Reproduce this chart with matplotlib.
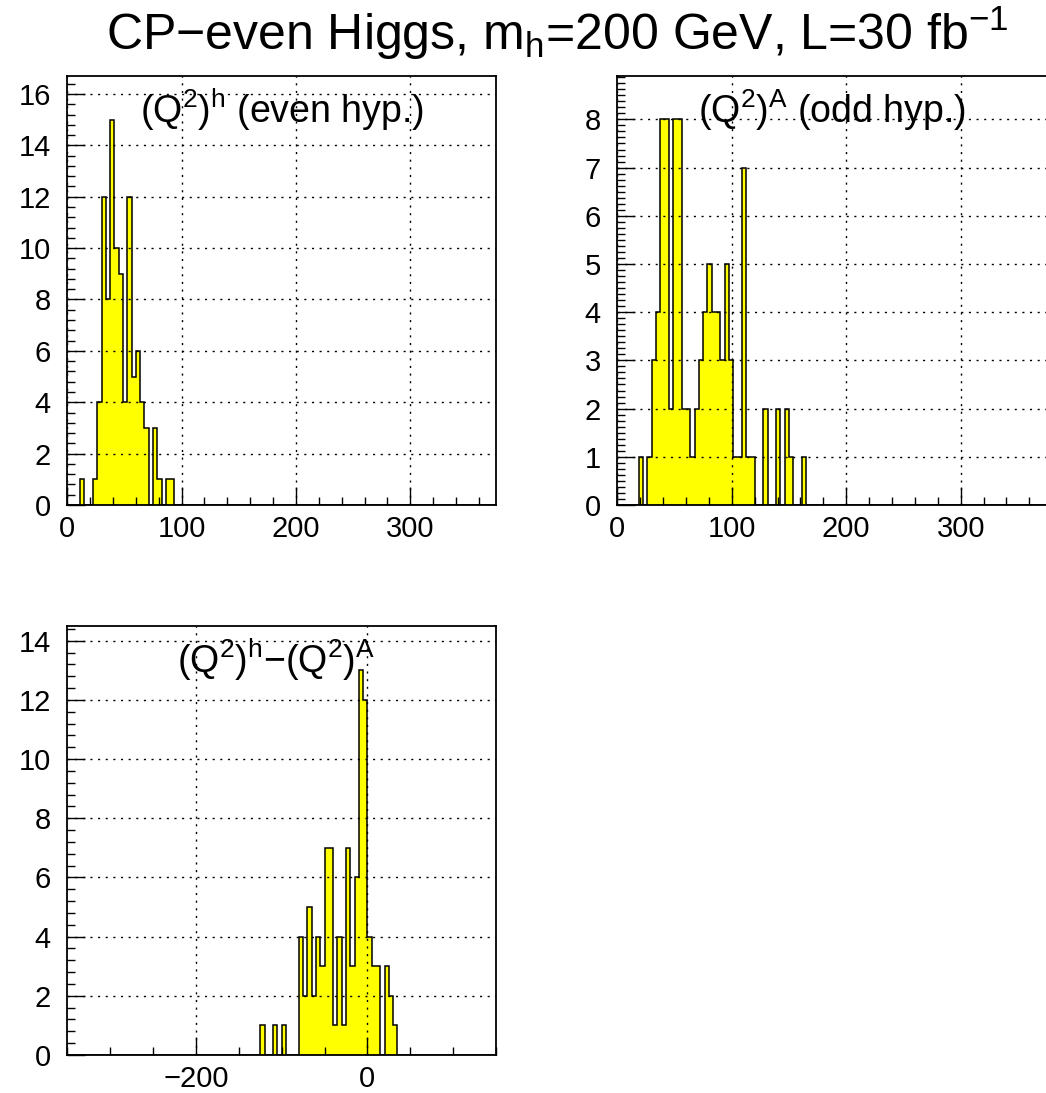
import matplotlib
matplotlib.use('Agg', force=True)
import matplotlib.pyplot as plt
import numpy as np
from matplotlib.ticker import MultipleLocator

plt.rcParams['font.family'] = ['Liberation Sans', 'DejaVu Sans']
plt.rcParams['mathtext.fontset'] = 'custom'
plt.rcParams['mathtext.rm'] = 'Liberation Sans'
plt.rcParams['mathtext.it'] = 'Liberation Sans:italic'

# 100-bin histograms, counts read bin by bin (first filled bin index + contents)
n_bins = 100
q2_range = (0, 375)
diff_range = (-350, 150)

even_first_bin = 3
even_counts = [1, 0, 0, 1, 4, 12, 8, 15, 10, 9, 4, 12, 5, 6, 4, 3, 0, 3, 1, 0, 1, 1]

odd_first_bin = 5
odd_counts = [1, 0, 1, 3, 4, 8, 8, 2, 8, 8, 2, 2, 1, 2, 3, 4, 5, 4, 4, 3,
              5, 3, 1, 1, 7, 1, 1, 0, 0, 2, 0, 0, 2, 0, 2, 1, 0, 0, 1]

diff_first_bin = 45
diff_counts = [1, 0, 0, 1, 0, 1, 0, 0, 0, 4, 2, 5, 2, 4, 3, 7, 7, 1, 4, 1,
               7, 3, 6, 13, 12, 4, 3, 3, 0, 3, 2, 1]

panel_labels = [r'$\mathregular{(Q^2)^h}$ (even hyp.)',
                r'$\mathregular{(Q^2)^A}$ (odd hyp.)',
                r'$\mathregular{(Q^2)^h}$$\mathregular{-(Q^2)^A}$']
title = r'CP$\mathregular{-}$even Higgs, m$\mathregular{_h}$=200 GeV, L=30 fb$\mathregular{^{-1}}$'


def fill_bins(first, counts):
    c = np.zeros(n_bins)
    c[first:first + len(counts)] = counts
    return c


W, H = 1046, 1093
fig = plt.figure(figsize=(W / 100, H / 100), dpi=100)


def px_axes(x0, x1, y0, y1):
    return fig.add_axes([x0 / W, 1 - y1 / H, (x1 - x0) / W, (y1 - y0) / H])


def draw_hist(ax, counts, rng, ymax, xmaj, xmin, ymaj, ymin, label, lx):
    edges = np.linspace(rng[0], rng[1], n_bins + 1)
    ax.stairs(counts, edges, fill=True, color='#ffff00', baseline=0, zorder=2)
    ax.stairs(counts, edges, color='black', lw=1.1, baseline=0, zorder=3)
    ax.set_xlim(*rng)
    ax.set_ylim(0, ymax)
    ax.xaxis.set_major_locator(MultipleLocator(xmaj))
    ax.xaxis.set_minor_locator(MultipleLocator(xmin))
    ax.yaxis.set_major_locator(MultipleLocator(ymaj))
    ax.yaxis.set_minor_locator(MultipleLocator(ymin))
    ax.tick_params(which='both', direction='in', top=False, right=False, labelsize=21)
    ax.tick_params(which='major', length=13, width=1.0, pad=7)
    ax.tick_params(which='minor', length=6, width=1.0)
    ax.tick_params(axis='y', pad=12)
    ax.grid(True, which='major', color='black', lw=1.0, ls=(0, (1.5, 4)), zorder=4)
    ax.set_axisbelow(False)
    for sp in ax.spines.values():
        sp.set_linewidth(1.3)
        sp.set_zorder(5)
    ax.text(lx, 0.92, label, transform=ax.transAxes, ha='center', va='center',
            fontsize=27, zorder=6)


ax1 = px_axes(67.3, 496, 76, 505)
draw_hist(ax1, fill_bins(even_first_bin, even_counts), q2_range, 16.7, 100, 20, 2, 0.4,
          panel_labels[0], 0.5)

ax2 = px_axes(617.3, 1046.5, 76, 505)
draw_hist(ax2, fill_bins(odd_first_bin, odd_counts), q2_range, 8.9, 100, 20, 1, 0.125,
          panel_labels[1], 0.5)

ax3 = px_axes(67.3, 496, 626, 1055)
draw_hist(ax3, fill_bins(diff_first_bin, diff_counts), diff_range, 14.5, 200, 50, 2, 0.4,
          panel_labels[2], 0.487)

fig.text(557 / W, 1 - 33 / H, title, ha='center', va='center', fontsize=36)

fig.savefig('out.png', dpi=100)
plt.close(fig)
